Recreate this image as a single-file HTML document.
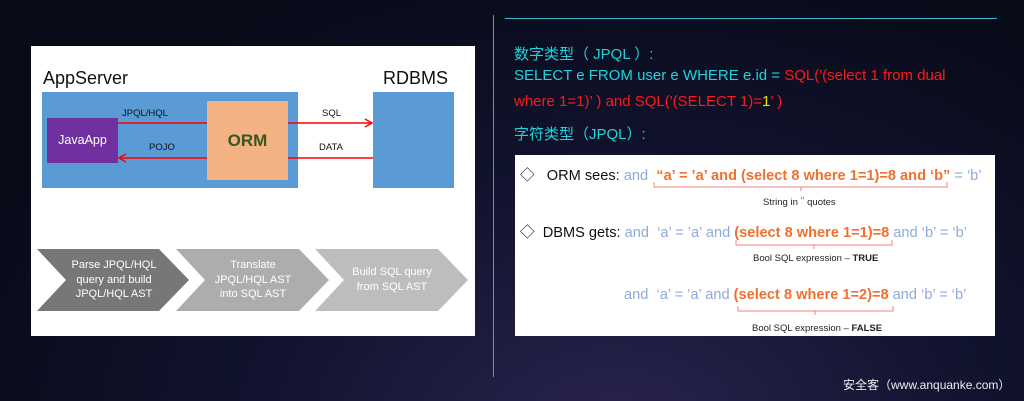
<!DOCTYPE html>
<html><head><meta charset="utf-8"><style>
*{margin:0;padding:0;box-sizing:border-box}
body{width:1024px;height:401px;overflow:hidden;position:relative;background:radial-gradient(ellipse at 60% 110%,#2a2450 0%,#121430 40%,#080b18 80%);font-family:"Liberation Sans","Noto Sans CJK SC",sans-serif}
.a{position:absolute;white-space:nowrap}
.cy{color:#22d3dc}.rd{color:#ff1a1a}
.bl{color:#8eaadb}.or{color:#f07030;font-weight:bold}
.sm{font-size:9.5px;color:#222}
</style></head><body>
<div class="a" style="left:493px;top:15px;width:1px;height:362px;background:#3aa8c0"></div>
<div class="a" style="left:505px;top:18px;width:492px;height:1px;background:#3ab8d0"></div>

<!-- left panel -->
<div class="a" style="left:31px;top:46px;width:444px;height:290px;background:#fff"></div>
<div class="a" style="left:43px;top:68px;font-size:18px;color:#111">AppServer</div>
<div class="a" style="left:383px;top:68px;font-size:18px;color:#111">RDBMS</div>
<div class="a" style="left:42px;top:92px;width:256px;height:96px;background:#5b9bd5"></div>
<div class="a" style="left:373px;top:92px;width:81px;height:96px;background:#5b9bd5"></div>
<div class="a" style="left:47px;top:118px;width:71px;height:45px;background:#7030a0;color:#fff;font-size:12.5px;line-height:45px;text-align:center">JavaApp</div>
<div class="a" style="left:207px;top:101px;width:81px;height:79px;background:#f4b183;color:#375623;font-size:17px;font-weight:bold;line-height:79px;text-align:center">ORM</div>
<svg class="a" style="left:0;top:0" width="480" height="340">
<g stroke="#ff0000" stroke-width="1.5" fill="none">
<line x1="118" y1="123" x2="207" y2="123"/><line x1="288" y1="123" x2="372" y2="123"/>
<polyline points="365,119 372,123 365,127"/>
<line x1="119" y1="158" x2="207" y2="158"/><line x1="288" y1="158" x2="373" y2="158"/>
<polyline points="126,154 119,158 126,162"/>
</g>
<polygon points="37,249 159,249 189,280 159,311 37,311 66,280" fill="#777"/>
<polygon points="176,249 299,249 329,280 299,311 176,311 205,280" fill="#adadad"/>
<polygon points="315,249 438,249 468,280 438,311 315,311 344,280" fill="#bdbdbd"/>
</svg>
<div class="a" style="left:122px;top:108px;font-size:9.5px;color:#111">JPQL/HQL</div>
<div class="a" style="left:149px;top:142px;font-size:9.5px;color:#111">POJO</div>
<div class="a" style="left:322px;top:108px;font-size:9.5px;color:#111">SQL</div>
<div class="a" style="left:319px;top:142px;font-size:9.5px;color:#111">DATA</div>
<div class="a" style="left:64px;top:258px;width:100px;text-align:center;font-size:11px;line-height:14.5px;color:#fff">Parse JPQL/HQL<br>query and build<br>JPQL/HQL AST</div>
<div class="a" style="left:203px;top:258px;width:100px;text-align:center;font-size:11px;line-height:14.5px;color:#fff">Translate<br>JPQL/HQL AST<br>into SQL AST</div>
<div class="a" style="left:342px;top:265px;width:100px;text-align:center;font-size:11px;line-height:14.5px;color:#fff">Build SQL query<br>from SQL AST</div>

<!-- top right text -->
<div class="a cy" style="left:514px;top:43px;font-size:15px">数字类型（ JPQL ）:</div>
<div class="a cy" style="left:514px;top:67px;font-size:15px">SELECT e FROM user e WHERE e.id = <span class="rd">SQL('(select 1 from dual</span></div>
<div class="a rd" style="left:514px;top:93px;font-size:15px">where 1=1)’ ) and SQL('(SELECT 1)=<span style="color:#e8e000">1</span>’ )</div>
<div class="a cy" style="left:514px;top:123px;font-size:15px">字符类型（JPQL）:</div>

<!-- right panel -->
<div class="a" style="left:515px;top:155px;width:480px;height:181px;background:#fff"></div>
<div class="a" style="left:520px;top:164px;font-size:14.6px;color:#111">◇&nbsp;&nbsp; ORM sees: <span class="bl">and&nbsp; </span><span class="or">“a’ = ’a’ and (select 8 where 1=1)=8 and ‘b”</span><span class="bl"> = ‘b’</span></div>
<div class="a" style="left:520px;top:221px;font-size:14.6px;color:#111">◇&nbsp; DBMS gets: <span class="bl">and&nbsp; ‘a’ = ’a’ and </span><span class="or">(select 8 where 1=1)=8</span><span class="bl"> and ‘b’ = ‘b’</span></div>
<div class="a" style="left:624px;top:287px;font-size:14.6px"><span class="bl">and&nbsp; ‘a’ = ’a’ and </span><span class="or">(select 8 where 1=2)=8</span><span class="bl"> and ‘b’ = ‘b’</span></div>
<svg class="a" style="left:0;top:0" width="1024" height="401">
<g stroke="#f08080" stroke-width="1" fill="none">
<path d="M654,182 v5 h293 v-5 M801,187 v4"/>
<path d="M736,240 v5 h156 v-5 M814,245 v4"/>
<path d="M738,306 v5 h155 v-5 M815,311 v4"/>
</g>
</svg>
<div class="a sm" style="left:763px;top:194px">String in <span style="color:#f07030;font-size:12px">“</span> quotes</div>
<div class="a sm" style="left:753px;top:253px">Bool SQL expression – <b>TRUE</b></div>
<div class="a sm" style="left:752px;top:323px">Bool SQL expression – <b>FALSE</b></div>

<div class="a" style="left:843px;top:376px;font-size:12px;color:#eee">安全客（www.anquanke.com）</div>
</body></html>
